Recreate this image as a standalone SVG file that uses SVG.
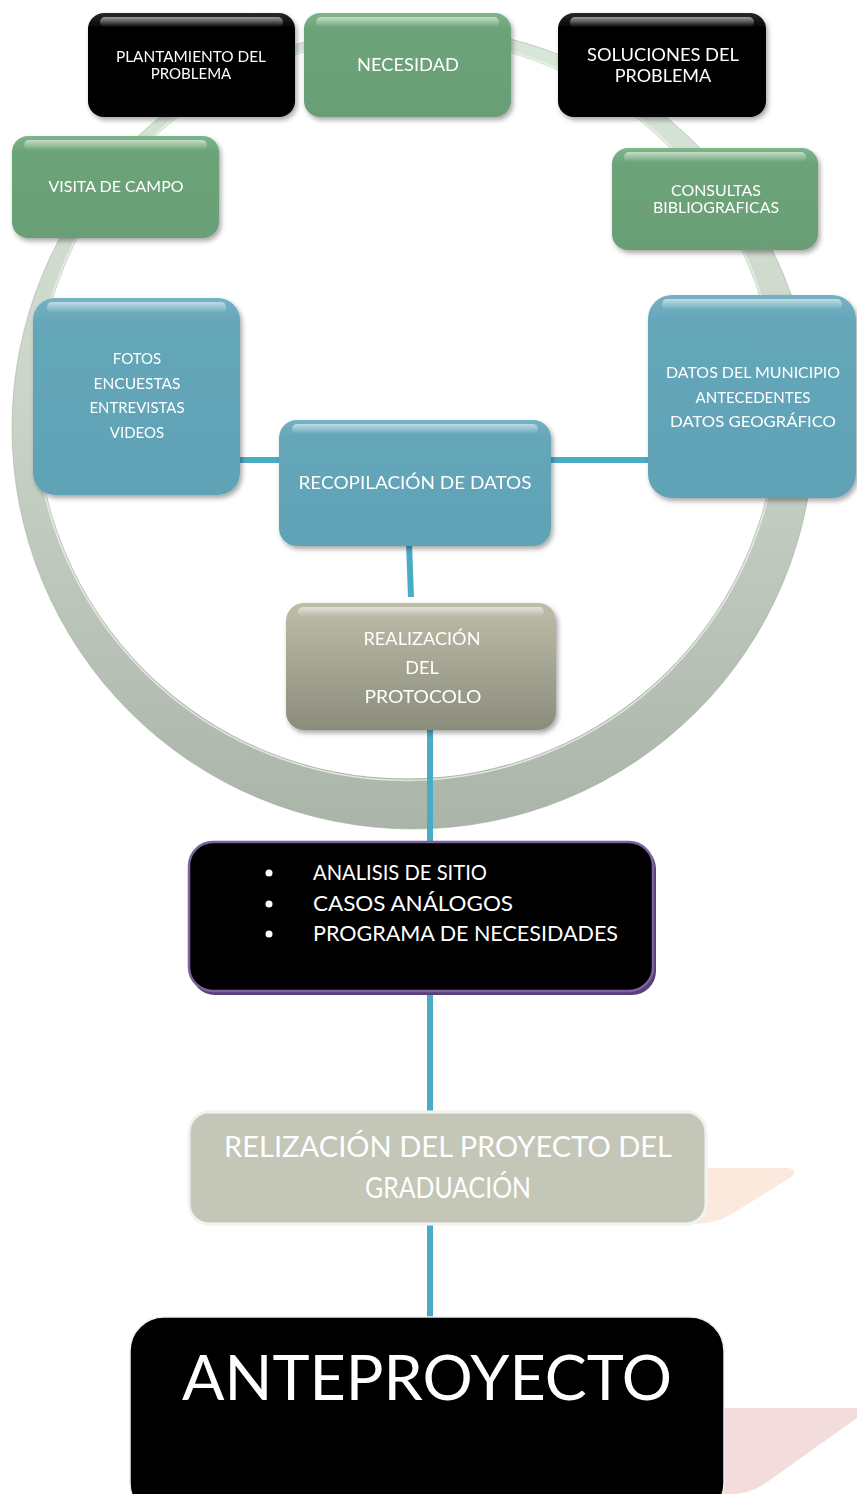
<svg xmlns="http://www.w3.org/2000/svg" width="857" height="1494" viewBox="0 0 857 1494">
<defs>
<linearGradient id="ringG" x1="0" y1="27" x2="0" y2="829" gradientUnits="userSpaceOnUse">
<stop offset="0" stop-color="#d8e8d8"/><stop offset="0.45" stop-color="#cbd5c8"/><stop offset="1" stop-color="#abb4a9"/>
</linearGradient>
<linearGradient id="gBlack" x1="0" y1="0" x2="0" y2="1"><stop offset="0" stop-color="#2a2a2a"/><stop offset="0.15" stop-color="#000"/><stop offset="1" stop-color="#000"/></linearGradient>
<linearGradient id="gGreen" x1="0" y1="0" x2="0" y2="1"><stop offset="0" stop-color="#7fb589"/><stop offset="0.15" stop-color="#6da379"/><stop offset="1" stop-color="#6a9f76"/></linearGradient>
<linearGradient id="gBlue" x1="0" y1="0" x2="0" y2="1"><stop offset="0" stop-color="#75b2c4"/><stop offset="0.12" stop-color="#65a7b9"/><stop offset="1" stop-color="#60a2b6"/></linearGradient>
<linearGradient id="gOlive" x1="0" y1="0" x2="0" y2="1"><stop offset="0" stop-color="#bdbda9"/><stop offset="1" stop-color="#8c8c7c"/></linearGradient>
<linearGradient id="hi" x1="0" y1="0" x2="0" y2="1"><stop offset="0" stop-color="#fff" stop-opacity="0.55"/><stop offset="1" stop-color="#fff" stop-opacity="0"/></linearGradient>
<filter id="sh" x="-10%" y="-10%" width="125%" height="130%"><feDropShadow dx="2" dy="3" stdDeviation="2.5" flood-color="#000" flood-opacity="0.35"/></filter>
</defs>
<style>
.t{font-family:Lato,"Liberation Sans",sans-serif;fill:#fff;text-anchor:middle}
.s15{font-size:15px}.s16{font-size:16px}.s17{font-size:17px}.s18{font-size:18px}
.c{stroke:#4aacc4;stroke-width:6;fill:none}
.hl{fill:url(#hi)}
</style>
<!-- ring -->
<path fill-rule="evenodd" fill="url(#ringG)" d="M12,428 a401,401 0 1,0 802,0 a401,401 0 1,0 -802,0 Z M36.4,408.4 a370.2,370.2 0 1,0 740.4,0 a370.2,370.2 0 1,0 -740.4,0 Z"/>
<circle cx="406.6" cy="408.4" r="372" fill="none" stroke="#eef2ec" stroke-width="1.5" opacity="0.8"/>
<circle cx="413" cy="428" r="401" fill="none" stroke="#9ea89b" stroke-width="1" opacity="0.5"/>
<!-- decorative backs -->
<path d="M600,1168 L788,1168 Q800,1170 790,1178 L730,1215 Q715,1224 690,1224 L600,1224 Z" fill="#fbe9dd"/>
<path d="M600,1408 L857,1408 L857,1418 L770,1480 Q752,1494 730,1494 L600,1494 Z" fill="#f3dddc"/>
<!-- connectors -->
<g id="connectors">
<line class="c" x1="236" y1="460" x2="280" y2="460"/>
<line class="c" x1="537" y1="460" x2="650" y2="460"/>
<line class="c" x1="408" y1="517" x2="411" y2="597"/>
<line class="c" x1="430" y1="725" x2="430" y2="842"/>
<line class="c" x1="430" y1="992" x2="430" y2="1113"/>
<line class="c" x1="430" y1="1224" x2="430" y2="1317"/>
</g>
<g id="plantamiento" filter="url(#sh)">
<rect x="88" y="13" width="207" height="104" rx="16" fill="url(#gBlack)"/>
<rect x="100" y="17" width="183" height="10" rx="5" class="hl"/>
<text class="t s15" x="191" y="62" textLength="150" lengthAdjust="spacingAndGlyphs">PLANTAMIENTO DEL</text>
<text class="t s15" x="191" y="79">PROBLEMA</text>
</g>
<g id="necesidad" filter="url(#sh)">
<rect x="304" y="13" width="207" height="104" rx="16" fill="url(#gGreen)"/>
<rect x="316" y="17" width="183" height="10" rx="5" class="hl"/>
<text class="t s17" x="408" y="71" textLength="102" lengthAdjust="spacingAndGlyphs">NECESIDAD</text>
</g>
<g id="soluciones" filter="url(#sh)">
<rect x="558" y="13" width="208" height="104" rx="16" fill="url(#gBlack)"/>
<rect x="570" y="17" width="184" height="10" rx="5" class="hl"/>
<text class="t s18" x="663" y="61" textLength="152" lengthAdjust="spacingAndGlyphs">SOLUCIONES DEL</text>
<text class="t s18" x="663" y="82">PROBLEMA</text>
</g>
<g id="visita" filter="url(#sh)">
<rect x="12" y="136" width="207" height="102" rx="16" fill="url(#gGreen)"/>
<rect x="24" y="140" width="183" height="10" rx="5" class="hl"/>
<text class="t s15" x="116" y="192" textLength="135" lengthAdjust="spacingAndGlyphs">VISITA DE CAMPO</text>
</g>
<g id="consultas" filter="url(#sh)">
<rect x="612" y="148" width="206" height="102" rx="16" fill="url(#gGreen)"/>
<rect x="624" y="152" width="182" height="10" rx="5" class="hl"/>
<text class="t s15" x="716" y="196" textLength="90" lengthAdjust="spacingAndGlyphs">CONSULTAS</text>
<text class="t s15" x="716" y="213" textLength="126" lengthAdjust="spacingAndGlyphs">BIBLIOGRAFICAS</text>
</g>
<g id="fotos" filter="url(#sh)">
<rect x="33" y="298" width="207" height="197" rx="22" fill="url(#gBlue)"/>
<rect x="47" y="302" width="179" height="11" rx="5" class="hl"/>
<text class="t s15" x="137" y="364">FOTOS</text>
<text class="t s15" x="137" y="389" textLength="87" lengthAdjust="spacingAndGlyphs">ENCUESTAS</text>
<text class="t s15" x="137" y="413" textLength="95" lengthAdjust="spacingAndGlyphs">ENTREVISTAS</text>
<text class="t s15" x="137" y="438">VIDEOS</text>
</g>
<g id="datos" filter="url(#sh)">
<rect x="648" y="295" width="208" height="203" rx="24" fill="url(#gBlue)"/>
<rect x="662" y="299" width="180" height="11" rx="5" class="hl"/>
<text class="t s16" x="753" y="378" textLength="174" lengthAdjust="spacingAndGlyphs">DATOS DEL MUNICIPIO</text>
<text class="t s16" x="753" y="403" textLength="115" lengthAdjust="spacingAndGlyphs">ANTECEDENTES</text>
<text class="t s16" x="753" y="427" textLength="166" lengthAdjust="spacingAndGlyphs">DATOS GEOGRÁFICO</text>
</g>
<g id="recopilacion" filter="url(#sh)">
<rect x="279" y="420" width="272" height="126" rx="18" fill="url(#gBlue)"/>
<rect x="292" y="424" width="246" height="10" rx="5" class="hl"/>
<text class="t s17" x="415" y="489" textLength="233" lengthAdjust="spacingAndGlyphs">RECOPILACIÓN DE DATOS</text>
</g>
<g id="protocolo" filter="url(#sh)">
<rect x="286" y="603" width="270" height="127" rx="18" fill="url(#gOlive)"/>
<rect x="298" y="607" width="246" height="10" rx="5" class="hl"/>
<text class="t s18" x="422" y="645" textLength="117" lengthAdjust="spacingAndGlyphs">REALIZACIÓN</text>
<text class="t s18" x="422" y="674">DEL</text>
<text class="t s18" x="423" y="703" textLength="117" lengthAdjust="spacingAndGlyphs">PROTOCOLO</text>
</g>
<g id="analisis">
<rect x="191" y="845" width="465" height="150" rx="24" fill="#5a3f78"/>
<rect x="189" y="842" width="464" height="149" rx="24" fill="#000" stroke="#7d62a0" stroke-width="2.5"/>
<g style="font-family:Lato,'Liberation Sans',sans-serif;font-size:21px;fill:#fff">
<circle cx="269" cy="873" r="3.5" fill="#fff"/>
<circle cx="269" cy="904" r="3.5" fill="#fff"/>
<circle cx="269" cy="934" r="3.5" fill="#fff"/>
<text x="313" y="880" textLength="174" lengthAdjust="spacingAndGlyphs">ANALISIS DE SITIO</text>
<text x="313" y="911" textLength="200" lengthAdjust="spacingAndGlyphs">CASOS ANÁLOGOS</text>
<text x="313" y="941" textLength="305" lengthAdjust="spacingAndGlyphs">PROGRAMA DE NECESIDADES</text>
</g>
</g>
<g id="proyecto">
<rect x="189" y="1112" width="517" height="112" rx="20" fill="#c4c6b8" stroke="#f2f2f0" stroke-width="3"/>
<text class="t" style="font-size:28px" x="448" y="1157" textLength="448" lengthAdjust="spacingAndGlyphs">RELIZACIÓN DEL PROYECTO DEL</text>
<text class="t" style="font-size:28px" x="448" y="1198" textLength="166" lengthAdjust="spacingAndGlyphs">GRADUACIÓN</text>
</g>
<g id="anteproyecto">
<rect x="130" y="1317" width="594" height="200" rx="34" fill="#000" stroke="#eeeeee" stroke-width="1.5"/>
<text class="t" style="font-size:62px" x="427" y="1400" textLength="490" lengthAdjust="spacingAndGlyphs">ANTEPROYECTO</text>
</g>
</svg>
